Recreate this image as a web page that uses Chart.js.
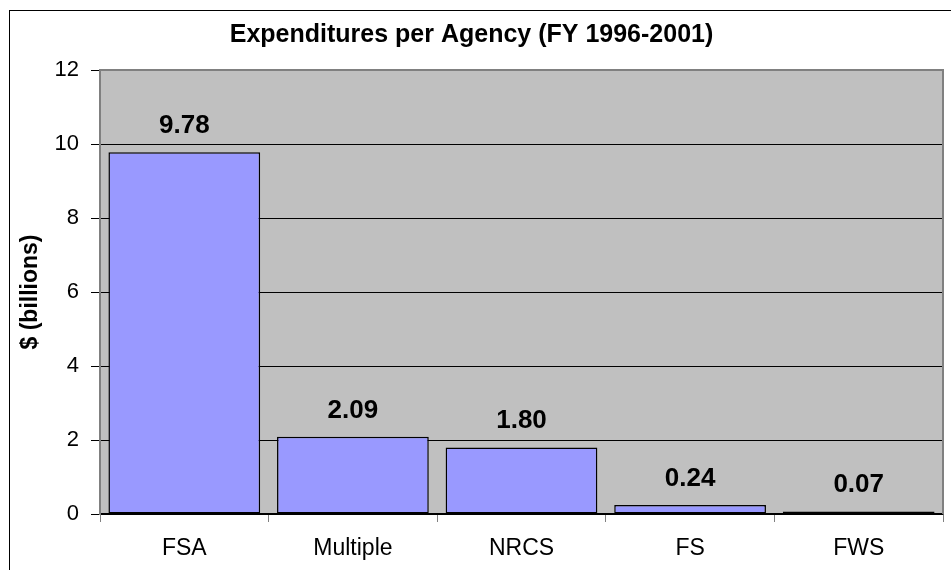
<!DOCTYPE html>
<html>
<head>
<meta charset="utf-8">
<script src="https://cdn.jsdelivr.net/npm/chart.js@4.4.1/dist/chart.umd.min.js"></script>
<style>
  html, body { margin: 0; padding: 0; background: #fff; }
  #wrap { width: 951px; height: 570px; }
</style>
</head>
<body>
<div id="wrap"><canvas id="agencyChart" width="951" height="570"></canvas></div>
<script>
// Chart data
const agencies = ['FSA', 'Multiple', 'NRCS', 'FS', 'FWS'];
const expenditures = [9.78, 2.09, 1.80, 0.24, 0.07];
const yTicks = [0, 2, 4, 6, 8, 10, 12];

const FONT = "'Liberation Sans', Arial, sans-serif";

// grey plot area + outer frame
const plotBackground = {
    id: 'plotBackground',
    beforeDraw(chart) {
        const ctx = chart.ctx;
        const a = chart.chartArea;
        ctx.save();
        ctx.fillStyle = '#fff';
        ctx.fillRect(0, 0, chart.width, chart.height);
        ctx.strokeStyle = '#000';
        ctx.lineWidth = 1;
        ctx.strokeRect(9.5, 10.5, chart.width + 20, chart.height + 20);
        ctx.fillStyle = '#C0C0C0';
        ctx.fillRect(a.left, a.top, a.right - a.left, a.bottom - a.top);
        ctx.restore();
    },
    beforeDatasetsDraw(chart) {
        const ctx = chart.ctx;
        const a = chart.chartArea;
        ctx.save();
        ctx.strokeStyle = '#808080';
        ctx.lineWidth = 2;
        ctx.beginPath();
        ctx.moveTo(a.left, a.top);
        ctx.lineTo(a.right, a.top);
        ctx.lineTo(a.right, a.bottom);
        ctx.stroke();
        ctx.restore();
    }
};

// value labels above bars
const valueLabels = {
    id: 'valueLabels',
    afterDatasetsDraw(chart) {
        const ctx = chart.ctx;
        const meta = chart.getDatasetMeta(0);
        ctx.save();
        ctx.font = 'bold 26px ' + FONT;
        ctx.fillStyle = '#000';
        ctx.textAlign = 'center';
        ctx.textBaseline = 'alphabetic';
        meta.data.forEach(function(bar, i) {
            ctx.fillText(expenditures[i].toFixed(2), bar.x, bar.y - 19);
        });
        ctx.restore();
    }
};

const ctx = document.getElementById('agencyChart').getContext('2d');
new Chart(ctx, {
    type: 'bar',
    data: {
        labels: agencies,
        datasets: [{
            data: expenditures,
            backgroundColor: '#9999FF',
            borderColor: '#000',
            borderWidth: 1.5,
            borderSkipped: false,
            barPercentage: 0.9,
            categoryPercentage: 1.0
        }]
    },
    options: {
        responsive: false,
        animation: false,
        layout: {
            padding: { left: 0, right: 8, top: 0, bottom: 0 }
        },
        plugins: {
            legend: { display: false },
            tooltip: { enabled: false },
            title: {
                display: true,
                text: 'Expenditures per Agency (FY 1996-2001)',
                color: '#000',
                font: { family: FONT, size: 25, weight: 'bold', lineHeight: 1.2 },
                padding: { top: 20, bottom: 20 }
            }
        },
        scales: {
            x: {
                afterFit(scale) { scale.height = 56; },
                grid: {
                    offset: true,
                    drawOnChartArea: false,
                    drawTicks: true,
                    tickLength: 8,
                    color: '#808080'
                },
                border: { color: '#000', width: 1.5 },
                ticks: {
                    color: '#000',
                    padding: 13,
                    font: { family: FONT, size: 23 }
                }
            },
            y: {
                min: 0,
                max: 12,
                afterFit(scale) { scale.width = 100; },
                afterBuildTicks(scale) {
                    scale.ticks = yTicks.map(v => ({ value: v }));
                },
                grid: {
                    color: '#000',
                    lineWidth: 1,
                    tickLength: 9
                },
                border: { color: '#808080', width: 2 },
                ticks: {
                    color: '#000',
                    padding: 12,
                    font: { family: FONT, size: 22 }
                },
                title: {
                    display: true,
                    text: '$ (billions)',
                    color: '#000',
                    font: { family: FONT, size: 23, weight: 'bold', lineHeight: 1.2 },
                    padding: { top: 17, bottom: 0 }
                }
            }
        }
    },
    plugins: [plotBackground, valueLabels]
});
</script>
</body>
</html>
